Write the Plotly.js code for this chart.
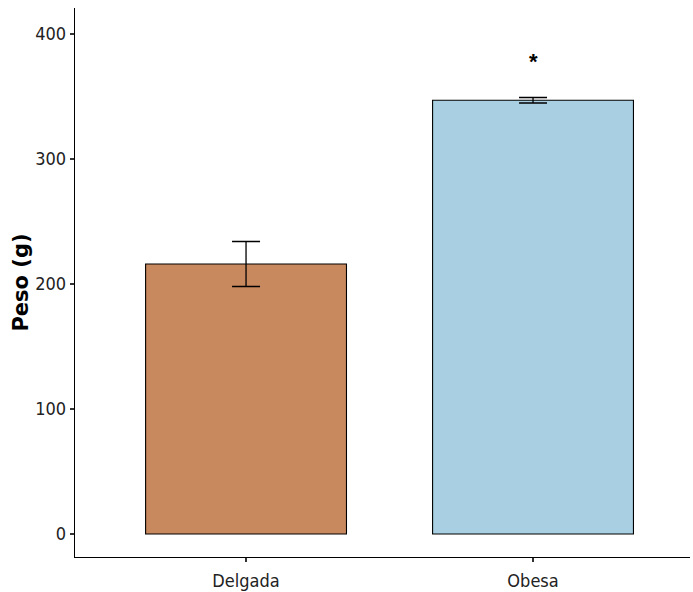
<!DOCTYPE html>
<html>
<head>
<meta charset="utf-8">
<script src="https://cdn.plot.ly/plotly-3.0.1.min.js"></script>
<style>
  html, body { margin: 0; padding: 0; background: #fff; }
  #chart { width: 693px; height: 592px; }
</style>
</head>
<body>
<div id="chart"></div>
<script>
// Body weight by group: mean with error bar
const groups = ["Delgada", "Obesa"];
const meanWeight = [216, 347];
const errWeight = [18, 2.2];
const barColors = ["#C8895F", "#A8D0E2"];
const yTicks = [0, 100, 200, 300, 400];
const signifMark = "*";
const signifY = 378;

const tickFont = { family: "DejaVu Sans Condensed, Liberation Sans Narrow, sans-serif", size: 18, color: "#222", stretch: "condensed" };

const trace = {
  type: "bar",
  x: groups,
  y: meanWeight,
  width: 0.7,
  marker: { color: barColors, line: { color: "#000", width: 1.1 } },
  error_y: { type: "data", array: errWeight, visible: true, color: "#000", thickness: 1.3, width: 14 },
  hoverinfo: "skip"
};

const layout = {
  width: 693,
  height: 592,
  margin: { l: 75, r: 3, t: 8, b: 35 },
  paper_bgcolor: "#fff",
  plot_bgcolor: "#fff",
  showlegend: false,
  bargap: 0.3,
  xaxis: {
    type: "category",
    range: [-0.596, 1.547],
    showgrid: false,
    zeroline: false,
    showline: true,
    linecolor: "#000",
    linewidth: 1.3,
    ticks: "outside",
    ticklen: 4,
    tickcolor: "#333",
    tickwidth: 1.1,
    tickfont: tickFont,
    ticklabelstandoff: 3
  },
  yaxis: {
    range: [-18.4, 420.8],
    tickvals: yTicks,
    ticktext: yTicks.map(String),
    showgrid: false,
    zeroline: false,
    showline: true,
    linecolor: "#000",
    linewidth: 1.3,
    ticks: "outside",
    ticklen: 4,
    tickcolor: "#333",
    tickwidth: 1.1,
    tickfont: tickFont,
    title: { text: "Peso (g)", font: { family: "DejaVu Sans, Arial, sans-serif", size: 21, color: "#000", weight: "bold" }, standoff: 0 }
  },
  annotations: [{
    x: groups[1], y: signifY, xref: "x", yref: "y",
    text: "<b>" + signifMark + "</b>", showarrow: false,
    font: { family: "Liberation Sans, Arial, sans-serif", size: 22, color: "#000" }
  }]
};

Plotly.newPlot("chart", [trace], layout, { displayModeBar: false, staticPlot: true });
</script>
</body>
</html>
